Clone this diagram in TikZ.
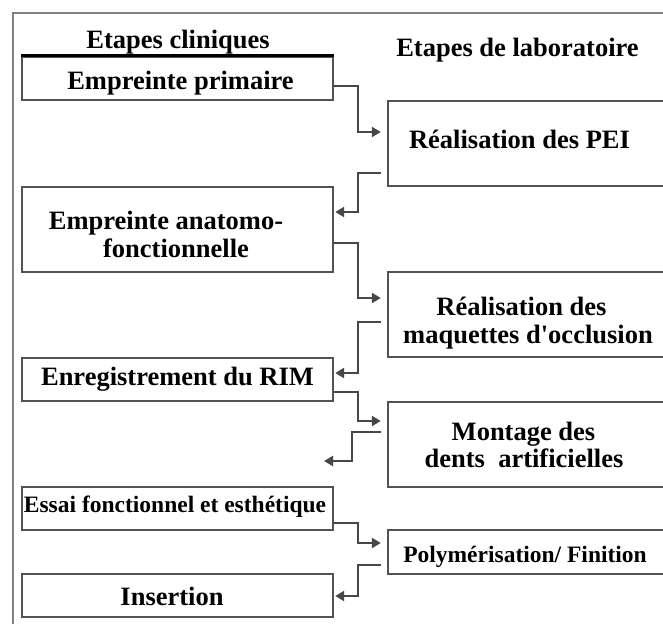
\documentclass[tikz,border=0pt]{standalone}
\usepackage{fontspec}
\setmainfont{Liberation Serif}
\usetikzlibrary{arrows.meta}
\begin{document}
\begin{tikzpicture}[x=1pt,y=-1pt,
  stepbox/.style={draw=black!68, line width=2.4pt, fill=white, inner sep=0pt, minimum width=311pt},
  labbox/.style={stepbox, minimum width=312pt},
  lbl/.style={anchor=base, inner sep=0pt, font=\bfseries\fontsize{26.5}{28}\selectfont},
  smaller/.style={font=\bfseries\fontsize{23.5}{26}\selectfont},
  conn/.style={draw=black!72, line width=2.3pt, -{Triangle[length=9pt,width=10pt]}},
]
\clip (0,0) rectangle (663,623);
\fill[white] (0,0) rectangle (663,623);

% outer frame
\draw[draw=black!50, line width=2.6pt] (13,650) |- (690,13);

% clinical steps (left column)
\node[stepbox, minimum height=43pt] (b1)  at (177.5,78.5)  {};
\node[stepbox, minimum height=85pt] (b2)  at (177.5,229.5) {};
\node[stepbox, minimum height=43pt] (rim) at (177.5,379.5) {};
\node[stepbox, minimum height=43pt] (ess) at (177.5,508.5) {};
\node[stepbox, minimum height=43pt] (ins) at (177.5,595.5) {};
\draw[line width=3pt] (b1.north west) -- (b1.north east);

% laboratory steps (right column)
\node[labbox, minimum height=85pt] (pei)  at (544,143.5) {};
\node[labbox, minimum height=85pt] (maq)  at (544,314.5) {};
\node[labbox, minimum height=85pt] (mont) at (544,444.5) {};
\node[labbox, minimum height=44pt] (poly) at (544,552)   {};

% headings and labels
\node[lbl] (hclin) at (178,49)   {Etapes cliniques};
\node[lbl] (hlab)  at (517.5,57) {Etapes de laboratoire};
\node[lbl] (t1)    at (180.5,90) {Empreinte primaire};
\node[lbl] (tp)    at (519.5,148) {Réalisation des PEI};
\node[lbl] (t2a)   at (166,229)  {Empreinte anatomo-};
\node[lbl] (t2b)   at (176,257)  {fonctionnelle};
\node[lbl] (tma)   at (521.5,315) {Réalisation des};
\node[lbl] (tmb)   at (528,343)  {maquettes d\textquotesingle occlusion};
\node[lbl] (t3)    at (177.5,385) {Enregistrement du RIM};
\node[lbl] (tmo1)  at (523.5,440) {Montage des};
\node[lbl] (tmo2)  at (524,467)  {dents~ artificielles};
\node[lbl,smaller] (t4)  at (175,512) {Essai fonctionnel et esthétique};
\node[lbl,smaller] (tpo) at (525,562) {Polymérisation/ Finition};
\node[lbl] (t5)    at (172,605)  {Insertion};

% connectors
\coordinate (free) at (324,461);
\draw[conn, shorten >=6pt] (b1.east |- 0,86) -| (358,132) -- (pei.west |- 0,132);
\draw[conn, shorten <=6pt, shorten >=1pt] (pei.west |- 0,173) -| (358,212) -- (b2.east |- 0,212);
\draw[conn, shorten >=6pt] (b2.east |- 0,243) -| (358,298) -- (maq.west |- 0,298);
\draw[conn, shorten <=6pt, shorten >=1pt] (maq.west |- 0,322) -| (358,373) -- (rim.east |- 0,373);
\draw[conn, shorten >=6pt] (rim.east |- 0,392) -| (358,421) -- (mont.west |- 0,421);
\draw[conn, shorten <=6pt] (mont.west |- 0,432) -| (352,461) -- (free);
\draw[conn, shorten >=6pt] (ess.east |- 0,523) -| (358,543) -- (poly.west |- 0,543);
\draw[conn, shorten <=6pt, shorten >=1pt] (poly.west |- 0,565) -| (358,596) -- (ins.east |- 0,596);
\end{tikzpicture}
\end{document}
